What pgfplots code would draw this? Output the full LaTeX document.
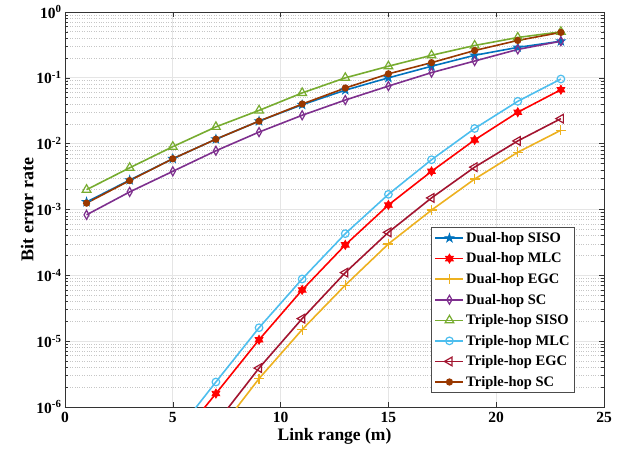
\documentclass[border=0pt]{standalone}
\usepackage{fontspec}
\setmainfont{Liberation Serif}
\usepackage{pgfplots}
\pgfplotsset{compat=1.18}
\usetikzlibrary{plotmarks}
\definecolor{c1}{rgb}{0,0.447,0.741}
\definecolor{c2}{rgb}{1,0,0}
\definecolor{c3}{rgb}{0.929,0.694,0.125}
\definecolor{c4}{rgb}{0.494,0.184,0.556}
\definecolor{c5}{rgb}{0.466,0.674,0.188}
\definecolor{c6}{rgb}{0.301,0.745,0.933}
\definecolor{c7}{rgb}{0.635,0.078,0.184}
\definecolor{c8}{rgb}{0.6,0.22,0.0}
\pgfdeclareplotmark{pentagram}{%
  \pgfpathmoveto{\pgfpointpolar{90}{\pgfplotmarksize}}%
  \pgfpathlineto{\pgfpointpolar{126}{0.382\pgfplotmarksize}}%
  \pgfpathlineto{\pgfpointpolar{162}{\pgfplotmarksize}}%
  \pgfpathlineto{\pgfpointpolar{198}{0.382\pgfplotmarksize}}%
  \pgfpathlineto{\pgfpointpolar{234}{\pgfplotmarksize}}%
  \pgfpathlineto{\pgfpointpolar{270}{0.382\pgfplotmarksize}}%
  \pgfpathlineto{\pgfpointpolar{306}{\pgfplotmarksize}}%
  \pgfpathlineto{\pgfpointpolar{342}{0.382\pgfplotmarksize}}%
  \pgfpathlineto{\pgfpointpolar{18}{\pgfplotmarksize}}%
  \pgfpathlineto{\pgfpointpolar{54}{0.382\pgfplotmarksize}}%
  \pgfpathclose\pgfusepathqfillstroke}
\pgfdeclareplotmark{hexagram}{%
  \pgfpathmoveto{\pgfpointpolar{90}{\pgfplotmarksize}}%
  \pgfpathlineto{\pgfpointpolar{120}{0.577\pgfplotmarksize}}%
  \pgfpathlineto{\pgfpointpolar{150}{\pgfplotmarksize}}%
  \pgfpathlineto{\pgfpointpolar{180}{0.577\pgfplotmarksize}}%
  \pgfpathlineto{\pgfpointpolar{210}{\pgfplotmarksize}}%
  \pgfpathlineto{\pgfpointpolar{240}{0.577\pgfplotmarksize}}%
  \pgfpathlineto{\pgfpointpolar{270}{\pgfplotmarksize}}%
  \pgfpathlineto{\pgfpointpolar{300}{0.577\pgfplotmarksize}}%
  \pgfpathlineto{\pgfpointpolar{330}{\pgfplotmarksize}}%
  \pgfpathlineto{\pgfpointpolar{0}{0.577\pgfplotmarksize}}%
  \pgfpathlineto{\pgfpointpolar{30}{\pgfplotmarksize}}%
  \pgfpathlineto{\pgfpointpolar{60}{0.577\pgfplotmarksize}}%
  \pgfpathclose\pgfusepathqfillstroke}
\begin{document}
\begin{tikzpicture}[x=1pt,y=1pt]
\path[use as bounding box] (-65,-51) rectangle (561,407);
\begin{axis}[
  at={(0,0)}, anchor=south west,
  scale only axis, width=539pt, height=395pt,
  ymode=log, xmin=0, xmax=25, ymin=1e-6, ymax=1,
  xtick={0,5,10,15,20,25},
  xticklabels={0,5,10,15,20,25},
  ytick={1e-6,1e-5,1e-4,1e-3,1e-2,1e-1,1},
  yticklabels={10\textsuperscript{-6},10\textsuperscript{-5},10\textsuperscript{-4},10\textsuperscript{-3},10\textsuperscript{-2},10\textsuperscript{-1},10\textsuperscript{0}},
  tick label style={font=\bfseries\fontsize{15.5}{15.5}\selectfont},
  xticklabel style={yshift=-2pt},
  xlabel style={font=\bfseries\fontsize{17.5}{17.5}\selectfont, yshift=2pt},
  ylabel style={font=\bfseries\fontsize{18}{18}\selectfont, yshift=-4pt},
  xlabel={Link range (m)}, ylabel={Bit error rate},
  grid=both,
  major grid style={solid, line width=0.7pt, gray!20},
  minor grid style={dotted, line width=0.7pt, gray!45},
  minor x tick num=0,
  axis line style={line width=0.8pt, black!80},
  tick style={black!80, line width=0.6pt},
  major tick length=5pt, minor tick length=3pt,
  every axis plot/.append style={line width=1.6pt},
  legend style={at={(0.946,0.035)}, anchor=south east, font=\bfseries\fontsize{14.5}{16}\selectfont,
    draw=black!70, line width=0.8pt, cells={anchor=west}, row sep=5pt, inner sep=3pt},
  legend image code/.code={\draw[mark repeat=2,mark phase=2] plot coordinates {(0pt,0pt) (14pt,0pt) (28pt,0pt)};},
]
\addplot[c1, mark=pentagram, mark size=4.5pt, mark options={line width=0.8pt}] coordinates {
(1,1.3e-3)(3,2.8e-3)(5,5.9e-3)(7,1.17e-2)(9,2.2e-2)(11,3.9e-2)(13,6.5e-2)(15,0.10)(17,0.15)(19,0.22)(21,0.29)(23,0.36)};
\addlegendentry{Dual-hop SISO}
\addplot[c2, mark=hexagram, mark size=4.5pt, mark options={line width=0.8pt}] coordinates {
(5,2.5e-7)(7,1.6e-6)(9,1.05e-5)(11,6.0e-5)(13,2.9e-4)(15,1.17e-3)(17,3.8e-3)(19,1.14e-2)(21,3.0e-2)(23,6.6e-2)};
\addlegendentry{Dual-hop MLC}
\addplot[c3, mark=+, mark size=5pt, mark options={line width=1.2pt}] coordinates {
(7,3.8e-7)(9,2.7e-6)(11,1.5e-5)(13,7.1e-5)(15,3.0e-4)(17,9.8e-4)(19,2.9e-3)(21,7.4e-3)(23,1.6e-2)};
\addlegendentry{Dual-hop EGC}
\addplot[c4, mark=diamond, mark size=4.5pt, mark options={line width=1.2pt, xscale=0.75}] coordinates {
(1,8.3e-4)(3,1.85e-3)(5,3.8e-3)(7,7.8e-3)(9,1.5e-2)(11,2.7e-2)(13,4.6e-2)(15,7.5e-2)(17,0.12)(19,0.18)(21,0.27)(23,0.36)};
\addlegendentry{Dual-hop SC}
\addplot[c5, mark=triangle, mark size=5pt, mark options={line width=1.2pt}] coordinates {
(1,2.0e-3)(3,4.3e-3)(5,9.0e-3)(7,1.8e-2)(9,3.2e-2)(11,5.9e-2)(13,0.10)(15,0.15)(17,0.22)(19,0.31)(21,0.41)(23,0.50)};
\addlegendentry{Triple-hop SISO}
\addplot[c6, mark=o, mark size=3.8pt, mark options={line width=1.2pt}] coordinates {
(5,3.5e-7)(7,2.4e-6)(9,1.6e-5)(11,8.8e-5)(13,4.3e-4)(15,1.7e-3)(17,5.7e-3)(19,1.7e-2)(21,4.4e-2)(23,9.6e-2)};
\addlegendentry{Triple-hop MLC}
\addplot[c7, mark=triangle, mark size=5pt, mark options={line width=1.2pt, rotate=90}] coordinates {
(7,5.6e-7)(9,3.9e-6)(11,2.2e-5)(13,1.1e-4)(15,4.5e-4)(17,1.5e-3)(19,4.4e-3)(21,1.1e-2)(23,2.4e-2)};
\addlegendentry{Triple-hop EGC}
\addplot[c8, mark=*, mark size=2.8pt] coordinates {
(1,1.25e-3)(3,2.75e-3)(5,5.9e-3)(7,1.17e-2)(9,2.2e-2)(11,4.0e-2)(13,7.0e-2)(15,0.115)(17,0.17)(19,0.26)(21,0.37)(23,0.49)};
\addlegendentry{Triple-hop SC}
\end{axis}
\end{tikzpicture}
\end{document}
